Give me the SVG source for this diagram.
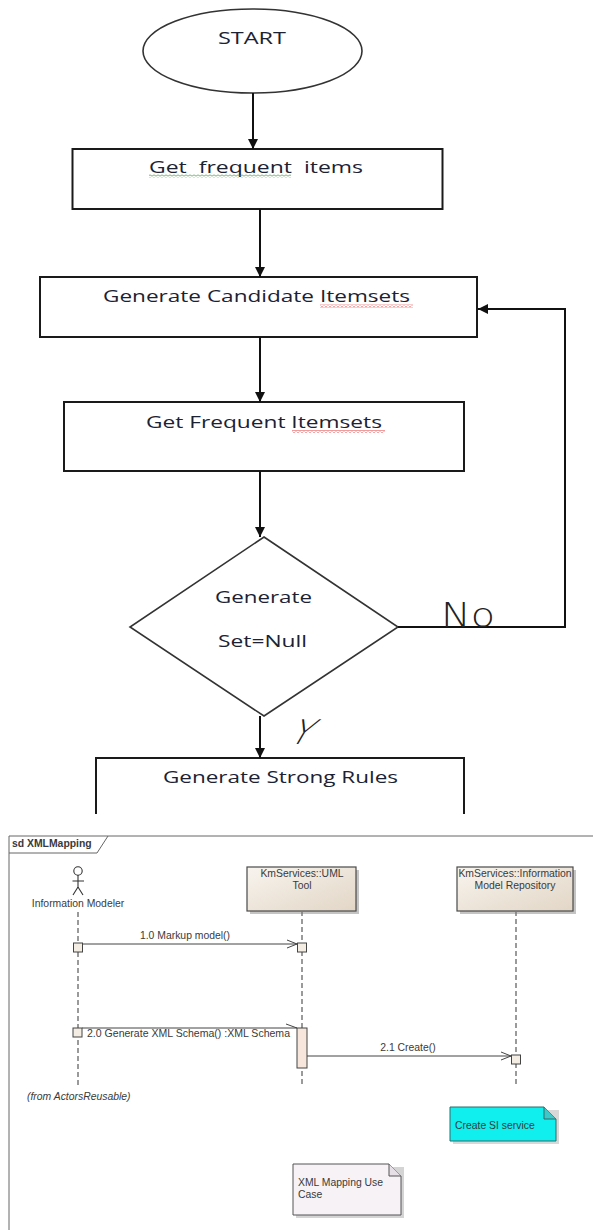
<svg xmlns="http://www.w3.org/2000/svg" width="593" height="1230" viewBox="0 0 593 1230">
<style>
.fc-box{fill:#fff;stroke:#1a1a1a;stroke-width:2}
.fc-shape{fill:#fff;stroke:#333;stroke-width:1.6}
.fc-text{font-family:"Open Sans","Liberation Sans",sans-serif;font-size:17px;fill:#1c2233;white-space:pre}
.conn{stroke:#111;stroke-width:2;fill:none}
.lbl{font-family:"DejaVu Sans","Liberation Sans",sans-serif;font-weight:200;fill:#222}
.seq{font-family:"Liberation Sans",Arial,sans-serif;font-size:10.4px;fill:#3a3a3a}
.mid{text-anchor:middle}
.lifeline{stroke:#7a7a7a;stroke-width:1.5;stroke-dasharray:5 3;fill:none}
.msg{stroke:#444;stroke-width:1;fill:none}
.obj{fill:url(#beige);stroke:#4a4a4a;stroke-width:1.2}
.shadow{fill:#c4c4c4}
.sq{fill:#f3ede4;stroke:#444;stroke-width:1}
</style>
<defs>
<marker id="arr" markerUnits="userSpaceOnUse" markerWidth="11" markerHeight="11" refX="10" refY="5" orient="auto">
<path d="M0,0 L10,5 L0,10 Z" fill="#111"/>
</marker>
<linearGradient id="beige" x1="0" y1="0" x2="1" y2="1">
<stop offset="0" stop-color="#f8f4ee"/>
<stop offset="1" stop-color="#e2d6c6"/>
</linearGradient>
<pattern id="wavyRed" width="4" height="3" patternUnits="userSpaceOnUse">
<path d="M0,2.5 L2,0.5 L4,2.5" stroke="#e02020" stroke-width="0.9" fill="none"/>
</pattern>
<pattern id="wavyGreen" width="4" height="3" patternUnits="userSpaceOnUse">
<path d="M0,2.5 L2,0.5 L4,2.5" stroke="#2a9a2a" stroke-width="0.9" fill="none"/>
</pattern>
</defs>
<rect width="593" height="1230" fill="#fff"/>

<!-- Flowchart nodes -->
<g id="start">
<ellipse class="fc-shape" cx="252.5" cy="51" rx="109.5" ry="42"/>
<text class="fc-text" x="218" y="44" textLength="68" lengthAdjust="spacingAndGlyphs">START</text>
</g>
<g id="get-frequent-items">
<rect class="fc-box" x="72.5" y="149" width="370" height="60"/>
<text class="fc-text" x="149" y="173" textLength="214" lengthAdjust="spacingAndGlyphs">Get  frequent  items</text>
<rect x="149" y="174.5" width="142" height="3" fill="url(#wavyGreen)"/>
</g>
<g id="generate-candidate">
<rect class="fc-box" x="40" y="277" width="437" height="60"/>
<text class="fc-text" x="103" y="302" textLength="307" lengthAdjust="spacingAndGlyphs">Generate Candidate Itemsets</text>
<rect x="320" y="304.5" width="93" height="3" fill="url(#wavyRed)"/>
</g>
<g id="get-frequent-itemsets">
<rect class="fc-box" x="64" y="402" width="400" height="69"/>
<text class="fc-text" x="146" y="428" textLength="236" lengthAdjust="spacingAndGlyphs">Get Frequent Itemsets</text>
<rect x="292" y="430" width="93" height="3" fill="url(#wavyRed)"/>
</g>
<g id="decision">
<polygon class="fc-shape" points="264,537 398,627 264,716 130,627"/>
<text class="fc-text" x="215" y="603" textLength="97" lengthAdjust="spacingAndGlyphs">Generate</text>
<text class="fc-text" x="218" y="647" textLength="89" lengthAdjust="spacingAndGlyphs">Set=Null</text>
</g>
<g id="strong-rules">
<path class="fc-box" d="M96,814 V758 H464 V814"/>
<text class="fc-text" x="163" y="783" textLength="235" lengthAdjust="spacingAndGlyphs">Generate Strong Rules</text>
</g>

<!-- Flowchart connectors -->
<g id="connectors">
<line class="conn" x1="253" y1="93" x2="253" y2="149" marker-end="url(#arr)"/>
<line class="conn" x1="260" y1="209" x2="260" y2="277" marker-end="url(#arr)"/>
<line class="conn" x1="260" y1="337" x2="260" y2="402" marker-end="url(#arr)"/>
<line class="conn" x1="260" y1="471" x2="260" y2="537" marker-end="url(#arr)"/>
<line class="conn" x1="260" y1="716" x2="260" y2="758" marker-end="url(#arr)"/>
<polyline class="conn" points="398,627 565,627 565,309 478,309" marker-end="url(#arr)"/>
<text class="lbl" x="441" y="627" font-size="34" textLength="54" lengthAdjust="spacingAndGlyphs">No</text>
<text class="lbl" x="0" y="0" font-size="34" transform="translate(287,744) skewX(-30)">Y</text>
</g>

<!-- Sequence diagram -->
<g id="frame">
<path d="M9,1230 V836 H593" fill="none" stroke="#666" stroke-width="1"/>
<path d="M9,853 H97 L108,836" fill="none" stroke="#666" stroke-width="1"/>
<text class="seq" x="12" y="847" font-weight="bold" fill="#333">sd XMLMapping</text>
</g>
<g id="actor-information-modeler">
<circle cx="78" cy="871" r="4.2" fill="#fff" stroke="#333" stroke-width="1.1"/>
<path d="M78,875 V887 M72.5,881 H84 M78,887 L73,895 M78,887 L83,895" stroke="#333" stroke-width="1.1" fill="none"/>
<text class="seq mid" x="78" y="907">Information Modeler</text>
<line class="lifeline" x1="78" y1="912" x2="78" y2="1087"/>
<rect class="sq" x="73.5" y="943" width="9" height="9"/>
<rect class="sq" x="73" y="1028" width="9" height="9"/>
<text class="seq" x="27" y="1100" font-style="italic" font-size="9.6">(from ActorsReusable)</text>
</g>
<g id="uml-tool">
<rect class="shadow" x="250" y="870" width="109" height="44"/>
<rect class="obj" x="247" y="867" width="109" height="44"/>
<text class="seq mid" x="302" y="877">KmServices::UML</text>
<text class="seq mid" x="302" y="889">Tool</text>
<line class="lifeline" x1="302" y1="911" x2="302" y2="1087"/>
<rect class="sq" x="297.5" y="943" width="9" height="9"/>
<rect x="297" y="1028" width="10" height="40" fill="#f6e6dc" stroke="#444" stroke-width="1"/>
</g>
<g id="info-model-repository">
<rect class="shadow" x="460" y="870" width="116" height="44"/>
<rect class="obj" x="457" y="867" width="116" height="44"/>
<text class="seq mid" x="515" y="877">KmServices::Information</text>
<text class="seq mid" x="515" y="889">Model Repository</text>
<line class="lifeline" x1="516" y1="911" x2="516" y2="1087"/>
<rect class="sq" x="511.5" y="1055" width="9" height="9"/>
</g>
<g id="messages">
<line class="msg" x1="82.5" y1="944" x2="297.5" y2="944"/>
<path class="msg" d="M287,940 L297,944 L287,948"/>
<text class="seq mid" x="185" y="939">1.0 Markup model()</text>
<line class="msg" x1="82" y1="1028" x2="297" y2="1028"/>
<path class="msg" d="M286,1024 L297,1028"/>
<text class="seq" x="87" y="1037" textLength="203" lengthAdjust="spacingAndGlyphs">2.0 Generate XML Schema() :XML Schema</text>
<line class="msg" x1="307" y1="1056" x2="511.5" y2="1056"/>
<path class="msg" d="M501,1052 L511,1056 L501,1060"/>
<text class="seq mid" x="408" y="1051">2.1 Create()</text>
</g>
<g id="note-create-si">
<path d="M453,1110 H559 V1144 H453 Z" fill="#d8d8d8"/>
<path d="M450,1107 H544 L556,1119 V1141 H450 Z" fill="#10eeee" stroke="#2d6a6a" stroke-width="1"/>
<path d="M544,1107 V1119 H556" fill="#3cc8c8" stroke="#2d6a6a" stroke-width="1"/>
<text class="seq" x="455" y="1129" fill="#1f3f50">Create SI service</text>
</g>
<g id="note-xml-mapping">
<path d="M296,1167 H404 V1218 H296 Z" fill="#d4d4d4"/>
<path d="M293,1164 H389 L401,1176 V1215 H293 Z" fill="#f6f2f6" stroke="#555" stroke-width="1"/>
<path d="M389,1164 V1176 H401" fill="#e6e0e6" stroke="#555" stroke-width="1"/>
<text class="seq" x="298" y="1186">XML Mapping Use</text>
<text class="seq" x="298" y="1198">Case</text>
</g>
</svg>
